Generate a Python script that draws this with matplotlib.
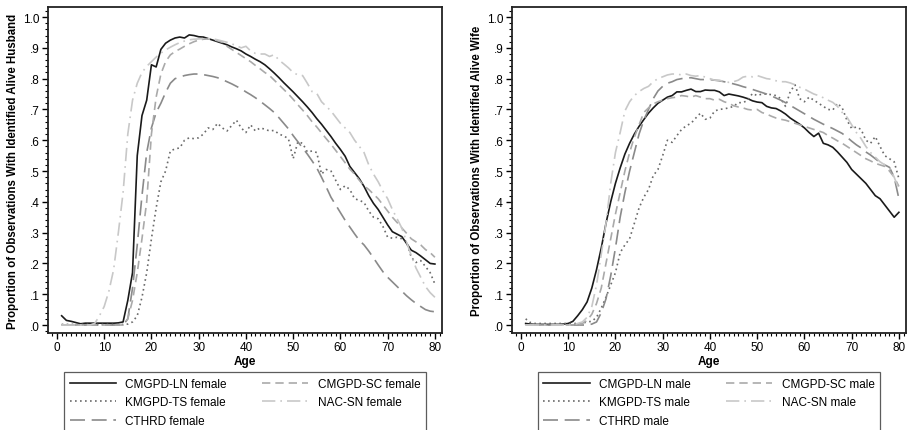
import matplotlib
matplotlib.use("Agg")
import matplotlib.pyplot as plt
from matplotlib.ticker import MultipleLocator, FuncFormatter
import numpy as np

plt.rcParams['font.family'] = ['Liberation Sans', 'DejaVu Sans']

ages = list(range(1, 81))

# ---------- Female panel: proportion with identified alive husband ----------
ln_female = [0.03, 0.015, 0.012, 0.008, 0.004, 0.006, 0.006, 0.006, 0.006, 0.006,
             0.006, 0.006, 0.007, 0.01, 0.08, 0.17, 0.55, 0.68, 0.73, 0.845,
             0.838, 0.895, 0.915, 0.925, 0.932, 0.935, 0.932, 0.942, 0.94, 0.936,
             0.935, 0.93, 0.925, 0.92, 0.915, 0.91, 0.903, 0.897, 0.89, 0.88,
             0.872, 0.863, 0.855, 0.845, 0.832, 0.818, 0.803, 0.787, 0.772, 0.757,
             0.741, 0.725, 0.708, 0.69, 0.67, 0.652, 0.632, 0.612, 0.59, 0.57,
             0.548, 0.515, 0.495, 0.475, 0.45, 0.42, 0.395, 0.375, 0.35, 0.325,
             0.303, 0.295, 0.287, 0.265, 0.243, 0.235, 0.224, 0.212, 0.2, 0.198]
km_female = [0.002, 0.002, 0.002, 0.002, 0.002, 0.002, 0.002, 0.002, 0.002, 0.002,
             0.002, 0.002, 0.002, 0.002, 0.003, 0.01, 0.03, 0.09, 0.17, 0.28,
             0.38, 0.465, 0.5, 0.565, 0.572, 0.575, 0.6, 0.608, 0.605, 0.608,
             0.62, 0.64, 0.635, 0.655, 0.64, 0.63, 0.648, 0.665, 0.64, 0.625,
             0.65, 0.63, 0.64, 0.636, 0.63, 0.632, 0.62, 0.614, 0.605, 0.54,
             0.595, 0.59, 0.562, 0.565, 0.56, 0.49, 0.505, 0.5, 0.47, 0.44,
             0.452, 0.44, 0.41, 0.405, 0.398, 0.37, 0.35, 0.345, 0.32, 0.285,
             0.282, 0.285, 0.28, 0.27, 0.22, 0.203, 0.209, 0.19, 0.17, 0.133]
cthrd_female = [0.0] * 14 + [
             0.02, 0.12, 0.26, 0.42, 0.56, 0.64,
             0.69, 0.72, 0.755, 0.785, 0.8, 0.805, 0.81, 0.813, 0.815, 0.815,
             0.813, 0.81, 0.807, 0.803, 0.797, 0.79, 0.783, 0.775, 0.767, 0.757,
             0.748, 0.738, 0.727, 0.715, 0.703, 0.69, 0.673, 0.655, 0.637, 0.615,
             0.595, 0.575, 0.555, 0.533, 0.51, 0.48, 0.448, 0.415, 0.39, 0.365,
             0.34, 0.318, 0.296, 0.275, 0.26, 0.24, 0.218, 0.195, 0.173, 0.155,
             0.14, 0.125, 0.11, 0.095, 0.082, 0.07, 0.06, 0.05, 0.045, 0.043]
sc_female = [0.0] * 14 + [
             0.02, 0.08, 0.17, 0.28, 0.4, 0.62,
             0.74, 0.815, 0.855, 0.877, 0.888, 0.896, 0.905, 0.913, 0.92, 0.925,
             0.928, 0.929, 0.927, 0.923, 0.918, 0.905, 0.895, 0.885, 0.875, 0.865,
             0.855, 0.843, 0.832, 0.82, 0.81, 0.795, 0.78, 0.765, 0.75, 0.733,
             0.715, 0.698, 0.68, 0.66, 0.643, 0.624, 0.605, 0.587, 0.567, 0.547,
             0.527, 0.506, 0.49, 0.47, 0.452, 0.44, 0.425, 0.41, 0.39, 0.37,
             0.35, 0.333, 0.315, 0.298, 0.28, 0.27, 0.26, 0.245, 0.235, 0.22]
nac_female = [0.0] * 7 + [
             0.005, 0.03, 0.06,
             0.11, 0.18, 0.3, 0.43, 0.62, 0.73, 0.785, 0.82, 0.84, 0.855,
             0.87, 0.883, 0.893, 0.902, 0.91, 0.917, 0.922, 0.926, 0.928, 0.929,
             0.93, 0.93, 0.929, 0.926, 0.922, 0.918, 0.913, 0.907, 0.9, 0.905,
             0.89, 0.882, 0.88, 0.88, 0.872, 0.878, 0.86, 0.848, 0.835, 0.82,
             0.812, 0.81, 0.785, 0.758, 0.752, 0.725, 0.71, 0.695, 0.675, 0.655,
             0.64, 0.625, 0.6, 0.58, 0.56, 0.52, 0.49, 0.465, 0.435, 0.41,
             0.375, 0.345, 0.315, 0.27, 0.225, 0.185, 0.155, 0.125, 0.105, 0.09]

# ---------- Male panel: proportion with identified alive wife ----------
ln_male = [0.005, 0.003, 0.002, 0.002, 0.002, 0.002, 0.002, 0.002, 0.003, 0.005,
           0.012, 0.03, 0.05, 0.075, 0.12, 0.18, 0.25, 0.33, 0.4, 0.46,
           0.51, 0.555, 0.59, 0.62, 0.645, 0.667, 0.688, 0.705, 0.72, 0.73,
           0.74, 0.745, 0.757, 0.757, 0.762, 0.766, 0.758, 0.758, 0.763, 0.762,
           0.762, 0.757, 0.745, 0.75, 0.747, 0.744, 0.74, 0.735, 0.728, 0.724,
           0.722, 0.71, 0.705, 0.703, 0.695, 0.685, 0.672, 0.662, 0.652, 0.64,
           0.625, 0.612, 0.623, 0.59, 0.585, 0.577, 0.562, 0.545, 0.528, 0.505,
           0.49, 0.475, 0.46, 0.44, 0.42, 0.41, 0.39, 0.37, 0.35, 0.366]
km_male = [0.02, 0.008, 0.005, 0.005, 0.005, 0.005, 0.005, 0.005, 0.005, 0.005,
           0.005, 0.005, 0.006, 0.01, 0.012, 0.025, 0.055, 0.09, 0.13, 0.17,
           0.235, 0.26, 0.28, 0.33, 0.38, 0.415, 0.44, 0.485, 0.505, 0.55,
           0.6, 0.593, 0.615, 0.635, 0.647, 0.655, 0.672, 0.688, 0.668, 0.672,
           0.695, 0.7, 0.702, 0.705, 0.71, 0.722, 0.722, 0.73, 0.752, 0.745,
           0.75, 0.75, 0.748, 0.745, 0.735, 0.71, 0.758, 0.78, 0.735, 0.725,
           0.74, 0.73, 0.72, 0.71, 0.7, 0.698, 0.72, 0.705, 0.665, 0.638,
           0.643, 0.635, 0.6, 0.59, 0.612, 0.58, 0.55, 0.54, 0.53, 0.475]
cthrd_male = [0.0] * 14 + [
           0.003, 0.01, 0.04, 0.085, 0.16, 0.25,
           0.35, 0.43, 0.5, 0.56, 0.62, 0.665, 0.7, 0.735, 0.76, 0.775,
           0.785, 0.79, 0.797, 0.8, 0.802, 0.803, 0.8, 0.797, 0.797, 0.797,
           0.795, 0.793, 0.79, 0.787, 0.783, 0.779, 0.774, 0.77, 0.765, 0.76,
           0.755, 0.75, 0.744, 0.737, 0.73, 0.722, 0.713, 0.704, 0.695, 0.686,
           0.677, 0.668, 0.66, 0.652, 0.645, 0.638, 0.63, 0.622, 0.61, 0.597,
           0.585, 0.575, 0.562, 0.552, 0.54, 0.528, 0.52, 0.512, 0.48, 0.41]
sc_male = [0.0] * 12 + [
           0.005, 0.015, 0.035, 0.07, 0.12, 0.2, 0.28, 0.36,
           0.43, 0.5, 0.56, 0.61, 0.65, 0.69, 0.705, 0.718, 0.725, 0.73,
           0.735, 0.738, 0.74, 0.745, 0.743, 0.74, 0.745, 0.74, 0.735, 0.735,
           0.73, 0.733, 0.725, 0.72, 0.712, 0.708, 0.705, 0.7, 0.698, 0.7,
           0.69, 0.685, 0.678, 0.672, 0.668, 0.665, 0.66, 0.655, 0.65, 0.645,
           0.64, 0.635, 0.63, 0.625, 0.615, 0.607, 0.598, 0.59, 0.58, 0.57,
           0.56, 0.55, 0.54, 0.533, 0.525, 0.52, 0.515, 0.5, 0.48, 0.45]
nac_male = [0.0] * 11 + [
           0.005, 0.01, 0.025, 0.06, 0.13, 0.23, 0.33, 0.46, 0.56,
           0.625, 0.695, 0.725, 0.745, 0.758, 0.768, 0.775, 0.79, 0.8, 0.806,
           0.812, 0.815, 0.815, 0.812, 0.815, 0.81, 0.808, 0.81, 0.805, 0.8,
           0.795, 0.795, 0.79, 0.788, 0.79, 0.795, 0.805, 0.808, 0.806, 0.81,
           0.805, 0.8, 0.798, 0.793, 0.79, 0.79, 0.786, 0.78, 0.772, 0.766,
           0.758, 0.75, 0.745, 0.738, 0.73, 0.723, 0.71, 0.69, 0.675, 0.65,
           0.625, 0.605, 0.58, 0.56, 0.545, 0.53, 0.52, 0.51, 0.48, 0.44]

female_labels = ["CMGPD-LN female", "KMGPD-TS female", "CTHRD female",
                 "CMGPD-SC female", "NAC-SN female"]
male_labels = ["CMGPD-LN male", "KMGPD-TS male", "CTHRD male",
               "CMGPD-SC male", "NAC-SN male"]

styles = [
    dict(color="#1a1a1a", linestyle="-", linewidth=1.2),
    dict(color="#6a6a6a", linestyle=(0, (1, 2)), linewidth=1.2),
    dict(color="#8a8a8a", linestyle=(0, (9, 4)), linewidth=1.2),
    dict(color="#aaaaaa", linestyle=(0, (5, 3)), linewidth=1.2),
    dict(color="#c8c8c8", linestyle=(0, (8, 3, 1, 3)), linewidth=1.2),
]

fig = plt.figure(figsize=(9.10, 4.31), dpi=100)
ax1 = fig.add_axes([0.0527, 0.225, 0.433, 0.756])
ax2 = fig.add_axes([0.5626, 0.225, 0.433, 0.756])

def fmt(v, pos):
    s = f"{v:.1f}"
    if s.startswith("0"):
        s = s[1:]
    return s

panels = [
    (ax1, [ln_female, km_female, cthrd_female, sc_female, nac_female], female_labels,
     "Proportion of Observations With Identified Alive Husband", 0.2692),
    (ax2, [ln_male, km_male, cthrd_male, sc_male, nac_male], male_labels,
     "Proportion of Observations With Identified Alive Wife", 0.7791),
]

for ax, series, labels, ylab, cx in panels:
    lines = []
    for s, lab, st in zip(series, labels, styles):
        ln, = ax.plot(ages, s, label=lab, **st)
        lines.append(ln)
    ax.set_xlim(-1.9, 81.5)
    ax.set_ylim(-0.026, 1.032)
    ax.xaxis.set_major_locator(MultipleLocator(10))
    ax.xaxis.set_minor_locator(MultipleLocator(1))
    ax.yaxis.set_major_locator(MultipleLocator(0.1))
    ax.yaxis.set_minor_locator(MultipleLocator(0.02))
    ax.yaxis.set_major_formatter(FuncFormatter(fmt))
    ax.tick_params(axis="both", which="major", direction="out", length=4,
                   width=1, labelsize=8.5, pad=2, top=False, right=False)
    ax.tick_params(axis="both", which="minor", direction="out", length=2.2,
                   width=0.8, top=False, right=False)
    for sp in ax.spines.values():
        sp.set_linewidth(1.3)
        sp.set_color("#222222")
    ax.set_xlabel("Age", fontsize=8.5, fontweight="bold", labelpad=1)
    ax.set_ylabel(ylab, fontsize=8.3, fontweight="bold", labelpad=3)
    fig.legend(handles=lines, loc="upper center", bbox_to_anchor=(cx, 1 - 373 / 431),
               ncol=2, fontsize=8.5, frameon=True, fancybox=False,
               edgecolor="#333333", handlelength=3.9, handletextpad=0.8,
               columnspacing=3.0, labelspacing=0.55, borderpad=0.5,
               borderaxespad=0)
    fig.legends[-1].get_frame().set_linewidth(0.9)

fig.savefig("out.png", dpi=100)
